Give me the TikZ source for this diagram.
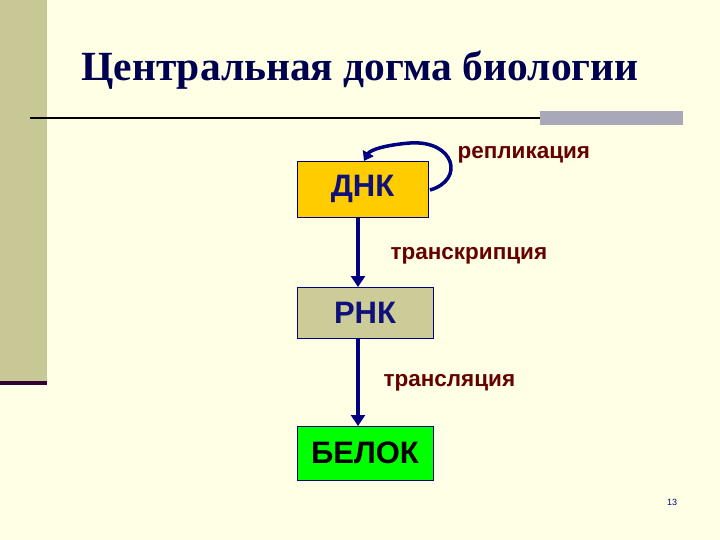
\documentclass[tikz,border=0pt]{standalone}
\usepackage{fontspec}
\setmainfont{Liberation Sans}
\newfontfamily\titlefont{Liberation Serif}
\usetikzlibrary{arrows.meta}
\definecolor{bg}{HTML}{FFFFE5}
\definecolor{barc}{HTML}{C8C896}
\definecolor{navy}{HTML}{000080}
\definecolor{darkp}{HTML}{330033}
\definecolor{grayb}{HTML}{A8A8B8}
\definecolor{titc}{HTML}{000050}
\definecolor{boxtxt}{HTML}{10107A}
\definecolor{dnaf}{HTML}{FFCC00}
\definecolor{rnaf}{HTML}{CCCC99}
\definecolor{protf}{HTML}{00FF00}
\definecolor{repc}{HTML}{660000}
\tikzset{gbox/.style={draw=navy,line width=0.8pt,minimum width=#1,inner sep=0pt,font=\bfseries\fontsize{31}{33}\selectfont},
 arr/.style={draw=navy,line width=3.5pt,-{Triangle[length=11pt,width=14pt]}},
 lbl/.style={font=\bfseries\fontsize{22.5}{24}\selectfont,anchor=west,text=repc}}
\begin{document}
\begin{tikzpicture}[x=1pt,y=-1pt]
\fill[bg] (0,0) rectangle (720,540);
\useasboundingbox (0,0) rectangle (720,540);
\fill[barc] (0,0) rectangle (47,382);
\fill[darkp] (0,381) rectangle (47,385);
\node[font=\titlefont\bfseries\fontsize{41.5}{44}\selectfont,text=titc] (title) at (360,70) {Центральная догма биологии};
\draw[line width=1.5pt] (30,118) -- (540,118);
\fill[grayb] (540,111) rectangle (683,125);
\node[gbox=131pt,minimum height=56pt,fill=dnaf,text=boxtxt] (dna) at (362.5,189) {ДНК};
\node[gbox=136pt,minimum height=51pt,fill=rnaf,text=boxtxt] (rna) at (365,312.5) {РНК};
\node[gbox=136pt,minimum height=54pt,fill=protf,text=black] (prot) at (365,453) {БЕЛОК};
\coordinate (a1) at (358,217);
\coordinate (a2) at (358,287);
\coordinate (a3) at (358,338);
\coordinate (a4) at (358,426);
\draw[arr] (a1) -- (a2);
\draw[arr] (a3) -- (a4);
\coordinate (r1) at (430,190);
\coordinate (r2) at (364,161);
\draw[draw=navy,line width=3.5pt,-{Triangle[length=9pt,width=12pt]}] (r1) .. controls (465,180) and (455,140) .. (410,143) .. controls (385,145) and (370,150) .. (r2);
\node[lbl] (rep) at (454,155) {репликация};
\node[lbl] (tr1) at (387,256) {транскрипция};
\node[lbl] (tr2) at (380,383) {трансляция};
\node[font=\fontsize{9}{10}\selectfont,text=navy] (pg) at (672,502) {13};
\end{tikzpicture}
\end{document}
